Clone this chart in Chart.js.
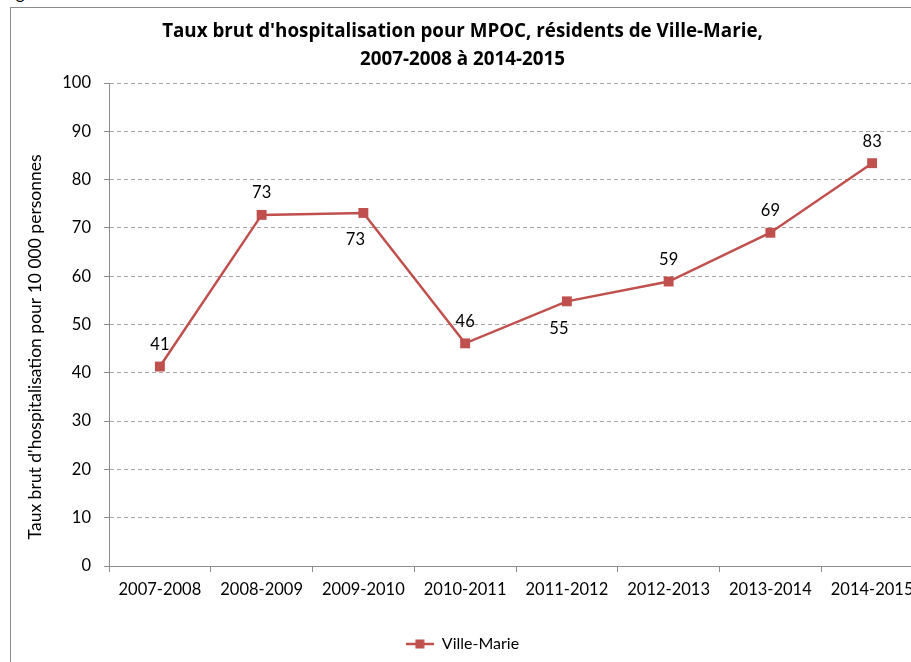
<!DOCTYPE html>
<html>
<head>
<meta charset="utf-8">
<script src="https://cdn.jsdelivr.net/npm/chart.js@4.4.0/dist/chart.umd.min.js"></script>
<style>
    html, body { margin: 0; padding: 0; background: #fff; overflow: hidden; }
    #wrap { position: relative; width: 930px; height: 662px; }
    #frame { position: absolute; left: 10px; top: 7px; width: 1000px; height: 700px;
             border-left: 1px solid #8c8c8c; border-top: 1px solid #8c8c8c; }
    #fig { position: absolute; left: 2px; top: -18px; font: 17px Lato, sans-serif; color: #000; }
    canvas { position: absolute; left: 0; top: 0; }
</style>
</head>
<body>
<div id="wrap">
    <div id="fig">Figure</div>
    <div id="frame"></div>
    <canvas id="rateChart" width="930" height="662"></canvas>
</div>
<script>
const periods = ['2007-2008', '2008-2009', '2009-2010', '2010-2011', '2011-2012', '2012-2013', '2013-2014', '2014-2015'];
const villeMarie = [41.3, 72.7, 73.1, 46.1, 54.8, 58.9, 69.0, 83.4];
const yTicks = [0, 10, 20, 30, 40, 50, 60, 70, 80, 90, 100];

const lineColor = '#C0504D';
const font = 'Lato, sans-serif';

// labels that Excel put under the point instead of above
const labelsBelow = [2, 4];

const legendIcon = (() => {
    const c = document.createElement('canvas');
    c.width = 28;
    c.height = 12;
    const g = c.getContext('2d');
    g.strokeStyle = lineColor;
    g.lineWidth = 2.5;
    g.beginPath();
    g.moveTo(0, 6);
    g.lineTo(28, 6);
    g.stroke();
    g.fillStyle = lineColor;
    g.fillRect(9.5, 1.5, 9, 9);
    return c;
})();

const pointLabels = {
    id: 'pointLabels',
    afterDatasetsDraw(chart) {
        const ctx = chart.ctx;
        const meta = chart.getDatasetMeta(0);
        ctx.save();
        ctx.font = '16.5px ' + font;
        ctx.fillStyle = '#000';
        ctx.textAlign = 'center';
        ctx.textBaseline = 'middle';
        meta.data.forEach((pt, i) => {
            const below = labelsBelow.includes(i);
            const dx = below ? -8 : 0;
            const dy = below ? 27 : -22;
            ctx.fillText(Math.round(villeMarie[i]), pt.x + dx, pt.y + dy);
        });
        ctx.restore();
    }
};

new Chart(document.getElementById('rateChart').getContext('2d'), {
    type: 'line',
    data: {
        labels: periods,
        datasets: [
            {
                label: 'Ville-Marie',
                data: villeMarie,
                borderColor: lineColor,
                backgroundColor: lineColor,
                borderWidth: 2.5,
                pointStyle: 'rect',
                pointRadius: 7,
                pointHoverRadius: 7,
                pointBorderWidth: 0,
                fill: false,
                tension: 0
            }
        ]
    },
    options: {
        responsive: false,
        animation: false,
        layout: { padding: { left: 0, right: 5, top: 0, bottom: 0 } },
        plugins: {
            title: {
                display: true,
                text: ["Taux brut d'hospitalisation pour MPOC, résidents de Ville-Marie,", '2007-2008 à 2014-2015'],
                color: '#000',
                font: { family: '"Open Sans", sans-serif', weight: 'bold', size: 18.8, lineHeight: 1.49 },
                padding: { top: 18, bottom: 9 }
            },
            legend: {
                position: 'bottom',
                labels: {
                    color: '#000',
                    font: { family: font, size: 16 },
                    usePointStyle: true,
                    pointStyleWidth: 28,
                    boxHeight: 12,
                    padding: 5,
                    generateLabels: chart => Chart.defaults.plugins.legend.labels.generateLabels(chart)
                        .map(l => ({ ...l, pointStyle: legendIcon }))
                }
            },
            tooltip: { enabled: false }
        },
        scales: {
            x: {
                offset: true,
                afterFit: scale => { scale.height = 65; },
                border: { color: '#8c8c8c', width: 1 },
                grid: {
                    display: true,
                    drawOnChartArea: false,
                    offset: true,
                    tickLength: 6,
                    tickColor: '#8c8c8c'
                },
                ticks: {
                    color: '#000',
                    font: { family: font, size: 16.5 },
                    padding: 8,
                    maxRotation: 0,
                    autoSkip: false
                }
            },
            y: {
                min: 0,
                max: 100,
                afterFit: scale => { scale.width = 109; },
                afterBuildTicks: scale => { scale.ticks = yTicks.map(v => ({ value: v })); },
                border: { color: '#8c8c8c', width: 1, dash: [4, 3] },
                grid: {
                    color: '#a6a6a6',
                    tickLength: 5,
                    tickColor: '#8c8c8c',
                    tickBorderDash: []
                },
                ticks: {
                    color: '#000',
                    font: { family: font, size: 16.5 },
                    padding: 13
                },
                title: {
                    display: true,
                    text: "Taux brut d'hospitalisation pour 10 000 personnes" + '\u00a0'.repeat(10),
                    color: '#000',
                    font: { family: font, size: 17.5 },
                    padding: { top: 25, bottom: 0 }
                }
            }
        }
    },
    plugins: [pointLabels]
});
</script>
</body>
</html>
